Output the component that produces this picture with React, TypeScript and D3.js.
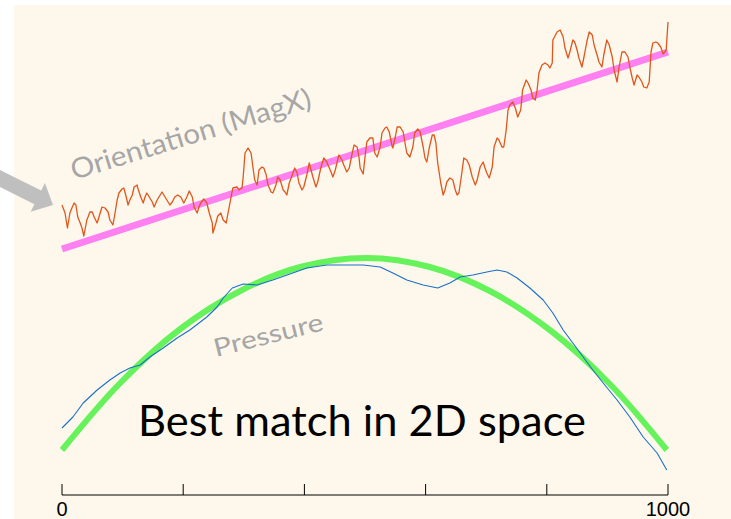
import React from "react";
import * as d3 from "d3";

// x: sample index (0..1000), y: signal value (arbitrary units)
const orientation: [number, number][] = [
  [0,300],[5,292],[9,277],[13,292],[17,298],[20,302],[23,300],[26,288],[30,282],[33,277],[36,269],[41,285],[43,288],[46,293],[50,293],[53,288],[58,282],[61,288],[66,298],[71,297],[76,293],[79,285],[84,280],[87,290],[91,305],[94,312],[99,316],[102,317],[106,308],[109,300],[112,305],[116,310],[119,318],[124,320],[125,317],[130,308],[134,302],[137,308],[140,312],[144,308],[149,303],[152,298],[157,305],[160,308],[165,313],[168,310],[173,305],[178,300],[182,303],[186,308],[191,310],[196,308],[201,302],[206,308],[210,314],[215,308],[218,298],[223,292],[226,298],[229,302],[234,306],[239,302],[243,292],[248,282],[249,272],[254,282],[257,289],[262,292],[266,285],[271,282],[274,292],[279,308],[282,317],[289,318],[292,315],[297,317],[299,328],[302,352],[307,357],[312,352],[315,338],[318,325],[322,320],[325,335],[330,338],[333,337],[337,330],[340,320],[345,313],[348,312],[353,320],[356,328],[360,325],[365,315],[368,313],[371,310],[375,322],[380,330],[384,337],[388,332],[391,322],[396,315],[399,318],[404,330],[408,342],[411,335],[414,328],[419,318],[422,323],[427,337],[432,347],[437,343],[439,340],[444,333],[447,328],[451,335],[454,343],[457,350],[462,345],[465,340],[470,333],[474,337],[479,352],[482,360],[487,358],[490,348],[492,337],[497,331],[500,348],[503,363],[508,367],[513,367],[516,352],[520,348],[525,358],[528,372],[533,377],[536,378],[540,373],[545,358],[546,357],[550,368],[553,378],[558,378],[563,373],[566,362],[569,352],[574,348],[579,358],[582,372],[587,376],[591,373],[596,358],[599,347],[602,343],[606,357],[611,370],[614,370],[617,362],[620,342],[625,322],[629,310],[632,315],[635,323],[640,327],[645,325],[649,315],[652,310],[655,312],[660,333],[663,347],[668,345],[672,340],[677,328],[682,320],[685,325],[690,338],[695,343],[698,337],[701,332],[705,327],[710,338],[713,358],[718,367],[721,365],[726,358],[729,358],[733,375],[736,395],[739,400],[744,403],[748,397],[752,388],[757,395],[760,415],[766,425],[769,422],[774,415],[777,407],[781,405],[784,415],[787,432],[792,440],[797,442],[802,440],[805,437],[809,442],[810,465],[817,473],[822,475],[827,468],[830,457],[835,447],[838,453],[843,465],[846,463],[850,455],[853,447],[858,438],[861,447],[866,463],[870,473],[875,470],[878,460],[883,450],[886,443],[891,438],[894,450],[899,465],[903,460],[908,448],[911,435],[916,423],[919,437],[924,453],[929,453],[934,448],[937,438],[941,427],[944,420],[949,430],[952,428],[957,423],[960,418],[965,417],[969,423],[972,453],[975,462],[980,463],[983,462],[988,458],[992,451],[997,455],[1000,483]
];

const orientationFit: [number, number][] = [[0,256],[1000,453]];

const pressure: [number, number][] = [
  [0,77],[18,88],[35,102],[58,115],[79,125],[96,132],[112,137],[129,140],[145,148],[167,157],[190,167],[211,175],[239,188],[256,198],[266,207],[281,217],[299,221],[322,220],[348,225],[376,231],[404,237],[437,240],[470,240],[497,240],[525,238],[546,232],[569,225],[596,220],[620,217],[640,222],[657,228],[678,230],[701,233],[718,235],[734,233],[751,227],[772,217],[794,205],[810,192],[827,175],[843,162],[860,148],[876,135],[893,122],[916,105],[937,88],[959,68],[982,52],[998,35]
];

const pressureFit: [number, number][] = [
  [0,55],[96,122],[195,176],[294,214],[393,238],[503,247],[607,238],[706,214],[805,175],[904,121],[998,55]
];

const tickValues = [0, 200, 400, 600, 800, 1000];
const tickLabels = ["0", "", "", "", "", "1000"];

const W = 731;
const H = 519;

export default function App() {
  const x = d3.scaleLinear().domain([0, 1000]).range([62, 668]);
  const y = d3.scaleLinear().domain([0, 500]).range([505, 5]);
  const line = d3.line<[number, number]>().x((d) => x(d[0])).y((d) => y(d[1]));
  const smooth = d3
    .line<[number, number]>()
    .x((d) => x(d[0]))
    .y((d) => y(d[1]))
    .curve(d3.curveCatmullRom.alpha(0.5));

  // gray arrow pointing to the orientation trace
  const th = (26.5 * Math.PI) / 180;
  const ux = Math.cos(th), uy = Math.sin(th);
  const nx = -Math.sin(th), ny = Math.cos(th);
  const tx = 53, ty = 205;
  const headL = 17, headW = 16, shaftW = 7.6, tailL = 90;
  const bx = tx - headL * ux, by = ty - headL * uy;
  const ex = tx - tailL * ux, ey = ty - tailL * uy;
  const arrowPts = [
    [tx, ty],
    [bx + headW * nx, by + headW * ny],
    [bx + shaftW * nx, by + shaftW * ny],
    [ex + shaftW * nx, ey + shaftW * ny],
    [ex - shaftW * nx, ey - shaftW * ny],
    [bx - shaftW * nx, by - shaftW * ny],
    [bx - headW * nx, by - headW * ny],
  ]
    .map((p) => p.join(","))
    .join(" ");

  const axisY = 495;

  return (
    <svg
      width={W}
      height={H}
      style={{ position: "absolute", left: 0, top: 0, display: "block" }}
    >
      <rect x={0} y={0} width={W} height={H} fill="#ffffff" />
      <rect x={14} y={5} width={W - 14} height={H - 5} fill="#FEF8EC" />
      <polygon points={arrowPts} fill="#BFBFBF" />

      <text
        x={74}
        y={180}
        transform="rotate(-17 74 180)"
        fill="#A6A6A6"
        fontFamily="Lato, 'Open Sans', sans-serif"
        fontSize={28}
        textLength={250}
        lengthAdjust="spacingAndGlyphs"
      >
        Orientation (MagX)
      </text>
      <text
        x={216}
        y={357}
        transform="rotate(-14 216 357)"
        fill="#A6A6A6"
        fontFamily="Lato, 'Open Sans', sans-serif"
        fontSize={25}
        textLength={112}
        lengthAdjust="spacingAndGlyphs"
      >
        Pressure
      </text>

      <path d={line(orientationFit) || ""} fill="none" stroke="#FF80F0" strokeWidth={7} />
      <path d={line(orientation) || ""} fill="none" stroke="#E0561C" strokeWidth={1.3} strokeLinejoin="round" />

      <path d={smooth(pressureFit) || ""} fill="none" stroke="#66F25A" strokeWidth={6} />
      <path d={line(pressure) || ""} fill="none" stroke="#1A6FC9" strokeWidth={1.1} strokeLinejoin="round" />

      <text
        x={138}
        y={436}
        fill="#000000"
        fontFamily="Lato, 'Open Sans', sans-serif"
        fontSize={43}
        textLength={448}
        lengthAdjust="spacingAndGlyphs"
      >
        Best match in 2D space
      </text>

      <g>
        <line x1={x(0)} x2={x(1000)} y1={axisY} y2={axisY} stroke="#000" strokeWidth={1} />
        {tickValues.map((t, i) => (
          <g key={t}>
            <line x1={x(t)} x2={x(t)} y1={axisY} y2={axisY - 11} stroke="#000" strokeWidth={1} />
            {tickLabels[i] ? (
              <text
                x={x(t)}
                y={516}
                textAnchor="middle"
                fontFamily="'Liberation Sans Narrow', 'Liberation Sans', sans-serif"
                fontSize={20}
                fill="#000"
              >
                {tickLabels[i]}
              </text>
            ) : null}
          </g>
        ))}
      </g>
    </svg>
  );
}
